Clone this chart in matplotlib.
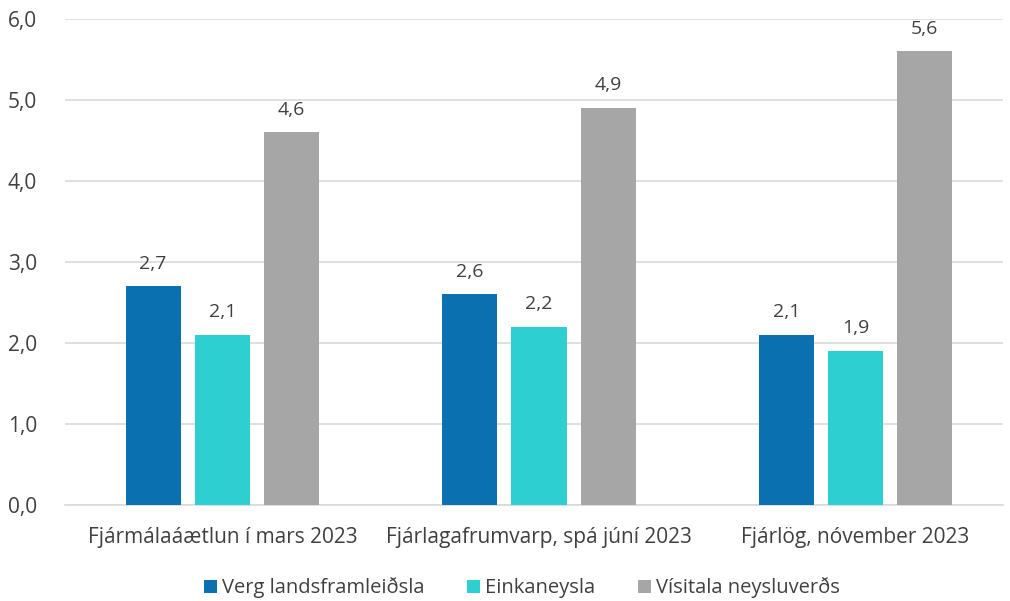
import numpy as np
import matplotlib.pyplot as plt

plt.rcParams['font.family'] = ['Open Sans', 'DejaVu Sans']

categories = ['Fjármálaáætlun í mars 2023', 'Fjárlagafrumvarp, spá júní 2023', 'Fjárlög, nóvember 2023']
series_names = ['Verg landsframleiðsla', 'Einkaneysla', 'Vísitala neysluverðs']
verg = [2.7, 2.6, 2.1]
einka = [2.1, 2.2, 1.9]
visitala = [4.6, 4.9, 5.6]
colors = ['#0B70B0', '#2ECFD0', '#A6A6A6']
text_color = '#404040'

fig = plt.figure(figsize=(10.10, 6.01), dpi=100)
ax = fig.add_axes([65/1010, 1 - 505/601, 938/1010, 486/601])

x = np.arange(len(categories))
w = 0.174
step = 0.219
for i, (vals, name) in enumerate(zip([verg, einka, visitala], series_names)):
    pos = x + (i - 1) * step
    ax.bar(pos, vals, width=w, color=colors[i], label=name, zorder=3)
    for p, v in zip(pos, vals):
        ax.text(p, v + 0.17, f'{v:.1f}'.replace('.', ','), ha='center', va='bottom',
                fontsize=14, color=text_color)

ax.set_xlim(-0.4976, 2.466)
ax.set_ylim(0, 6)
ax.set_yticks(np.arange(0, 7, 1))
ax.set_yticklabels([f'{t:.1f}'.replace('.', ',') for t in np.arange(0, 7, 1)])
ax.set_xticks(x)
ax.set_xticklabels(categories)
ax.tick_params(axis='both', length=0, labelsize=15, colors=text_color)
ax.tick_params(axis='y', pad=20)
ax.tick_params(axis='x', pad=16)
ax.grid(axis='y', color='#D9D9D9', linewidth=1.2, zorder=0)
for s in ['top', 'right', 'left']:
    ax.spines[s].set_visible(False)
ax.spines['bottom'].set_color('#D9D9D9')
ax.spines['bottom'].set_linewidth(1.2)

leg = fig.legend(loc='center', bbox_to_anchor=(522/1010, 1 - 588/601), ncol=3, frameon=False,
                 fontsize=14.5, handlelength=0.65, handleheight=0.65, handletextpad=0.25,
                 columnspacing=2.1)
for t in leg.get_texts():
    t.set_color(text_color)

fig.savefig('out.png', dpi=100)
